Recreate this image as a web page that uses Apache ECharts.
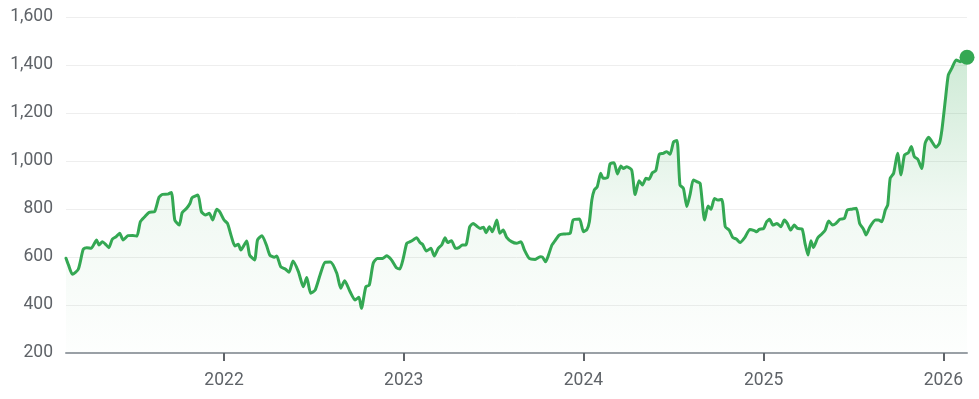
<!DOCTYPE html>
<html>
<head>
<meta charset="utf-8">
<script src="https://cdn.jsdelivr.net/npm/echarts@6/dist/echarts.min.js"></script>
<style>
  html, body { margin: 0; padding: 0; background: #fff; }
  #chart { width: 979px; height: 399px; }
</style>
</head>
<body>
<div id="chart"></div>
<script>
// dates and closing values
var dates = [
  '2021-02-14','2021-02-19','2021-02-27','2021-03-11','2021-03-21','2021-03-28','2021-04-06','2021-04-12','2021-04-17','2021-04-22',
  '2021-04-29','2021-05-05','2021-05-12','2021-05-19','2021-05-27','2021-06-03','2021-06-10','2021-06-20','2021-06-30','2021-07-08',
  '2021-07-15','2021-07-24','2021-08-02','2021-08-13','2021-08-22','2021-08-29','2021-09-09','2021-09-16','2021-09-23','2021-10-02',
  '2021-10-08','2021-10-17','2021-10-24','2021-10-28','2021-11-09','2021-11-16','2021-11-24','2021-12-02','2021-12-09','2021-12-17',
  '2021-12-23','2022-01-01','2022-01-08','2022-01-16','2022-01-23','2022-01-30','2022-02-04','2022-02-16','2022-02-22','2022-03-04',
  '2022-03-10','2022-03-19','2022-03-28','2022-04-04','2022-04-13','2022-04-18','2022-04-26','2022-05-06','2022-05-13','2022-05-21',
  '2022-06-01','2022-06-11','2022-06-18','2022-06-26','2022-07-05','2022-07-15','2022-07-25','2022-08-05','2022-08-18','2022-08-26',
  '2022-09-03','2022-09-14','2022-09-24','2022-10-02','2022-10-07','2022-10-16','2022-10-23','2022-10-31','2022-11-08','2022-11-19',
  '2022-11-27','2022-12-07','2022-12-17','2022-12-24','2022-12-31','2023-01-07','2023-01-14','2023-01-20','2023-01-27','2023-02-03',
  '2023-02-08','2023-02-16','2023-02-25','2023-03-04','2023-03-12','2023-03-19','2023-03-26','2023-03-31','2023-04-08','2023-04-16',
  '2023-04-23','2023-04-30','2023-05-07','2023-05-15','2023-05-22','2023-05-29','2023-06-05','2023-06-12','2023-06-17','2023-06-24',
  '2023-06-30','2023-07-09','2023-07-15','2023-07-22','2023-07-29','2023-08-08','2023-08-18','2023-08-27','2023-09-03','2023-09-13',
  '2023-09-25','2023-10-05','2023-10-10','2023-10-16','2023-10-22','2023-10-29','2023-11-04','2023-11-13','2023-11-25','2023-12-05',
  '2023-12-11','2023-12-24','2024-01-01','2024-01-08','2024-01-13','2024-01-18','2024-01-23','2024-01-29','2024-02-05','2024-02-10',
  '2024-02-19','2024-02-24','2024-03-03','2024-03-10','2024-03-17','2024-03-22','2024-03-29','2024-04-08','2024-04-15','2024-04-23',
  '2024-04-30','2024-05-07','2024-05-13','2024-05-20','2024-05-27','2024-06-03','2024-06-11','2024-06-18','2024-06-25','2024-07-02',
  '2024-07-09','2024-07-15','2024-07-22','2024-07-29','2024-08-05','2024-08-11','2024-08-18','2024-08-25','2024-09-03','2024-09-10',
  '2024-09-16','2024-09-23','2024-09-30','2024-10-08','2024-10-15','2024-10-23','2024-10-30','2024-11-07','2024-11-14','2024-11-24',
  '2024-12-04','2024-12-13','2024-12-18','2024-12-23','2025-01-01','2025-01-07','2025-01-13','2025-01-20','2025-01-28','2025-02-05',
  '2025-02-12','2025-02-18','2025-02-25','2025-03-04','2025-03-11','2025-03-20','2025-03-26','2025-04-01','2025-04-07','2025-04-12',
  '2025-04-21','2025-04-29','2025-05-06','2025-05-13','2025-05-21','2025-05-28','2025-06-05','2025-06-14','2025-06-20','2025-06-29',
  '2025-07-08','2025-07-15','2025-07-23','2025-07-28','2025-08-05','2025-08-16','2025-08-22','2025-08-29','2025-09-05','2025-09-10',
  '2025-09-15','2025-09-22','2025-09-30','2025-10-07','2025-10-14','2025-10-22','2025-10-28','2025-11-03','2025-11-10','2025-11-18',
  '2025-11-25','2025-12-02','2025-12-09','2025-12-17','2025-12-24','2025-12-29','2026-01-05','2026-01-11','2026-01-18','2026-01-27',
  '2026-02-04','2026-02-18'
];
var prices = [
  595, 567, 528, 549, 632, 639, 636, 654, 671, 650,
  664, 654, 639, 674, 685, 699, 671, 689, 690, 687,
  747, 768, 786, 789, 849, 861, 862, 869, 754, 733,
  785, 803, 824, 847, 858, 789, 775, 782, 754, 799,
  789, 754, 740, 685, 646, 653, 629, 667, 608, 588,
  671, 689, 650, 608, 599, 604, 560, 549, 536, 583,
  539, 476, 515, 449, 462, 525, 578, 579, 532, 470,
  501, 455, 421, 432, 386, 476, 483, 574, 594, 594,
  605, 588, 555, 550, 594, 657, 664, 671, 680, 660,
  653, 625, 636, 604, 636, 650, 680, 660, 668, 636,
  639, 650, 650, 726, 740, 729, 719, 724, 701, 726,
  705, 754, 699, 712, 682, 664, 657, 664, 630, 594,
  590, 601, 599, 580, 608, 650, 667, 692, 696, 699,
  754, 758, 705, 715, 747, 837, 879, 893, 949, 928,
  932, 988, 993, 946, 979, 969, 976, 962, 860, 918,
  900, 928, 924, 951, 960, 1028, 1032, 1039, 1028, 1080,
  1085, 900, 886, 810, 865, 921, 914, 907, 754, 812,
  799, 844, 837, 840, 726, 712, 682, 674, 660, 682,
  715, 710, 705, 715, 719, 747, 757, 733, 740, 726,
  754, 740, 712, 733, 719, 717, 657, 608, 668, 640,
  680, 696, 712, 750, 733, 740, 757, 761, 796, 799,
  803, 740, 715, 692, 726, 754, 754, 747, 796, 817,
  928, 949, 1032, 942, 1025, 1035, 1060, 1018, 1007, 969,
  1074, 1099, 1080, 1057, 1074, 1129, 1254, 1358, 1386, 1421,
  1414, 1432
];
var yearTicks = [2022, 2023, 2024, 2025, 2026];
var yTicks = [200, 400, 600, 800, 1000, 1200, 1400, 1600];

// numeric time (UTC ms) so the axis can take custom year ticks
var times = dates.map(function (d) { return new Date(d + 'T00:00:00Z').getTime(); });
var seriesData = times.map(function (t, i) { return [t, prices[i]]; });
var lastPoint = seriesData[seriesData.length - 1];
var yearStamps = yearTicks.map(function (y) { return Date.UTC(y, 0, 1); });

var myChart = echarts.init(document.getElementById('chart'));

var option = {
    animation: false,
    backgroundColor: '#ffffff',
    grid: {
        left: 66,
        right: 12,
        top: 17,
        bottom: 46
    },
    xAxis: {
        type: 'value',
        min: times[0],
        max: times[times.length - 1],
        axisLine: {lineStyle: {color: '#9aa0a6', width: 2}},
        axisTick: {
            show: true,
            customValues: yearStamps,
            length: 8,
            lineStyle: {color: '#5f6368', width: 2}
        },
        axisLabel: {
            customValues: yearStamps,
            formatter: function (v) { return String(new Date(v).getUTCFullYear()); },
            color: '#5f6368',
            fontFamily: 'Roboto',
            fontSize: 17.5,
            margin: 19
        },
        splitLine: {show: false}
    },
    yAxis: {
        type: 'value',
        min: yTicks[0],
        max: yTicks[yTicks.length - 1],
        interval: 200,
        axisLine: {show: false},
        axisTick: {show: false},
        axisLabel: {
            formatter: function (v) { return v.toLocaleString('en-US'); },
            color: '#5f6368',
            fontFamily: 'Roboto',
            fontSize: 17.5,
            margin: 13
        },
        splitLine: {lineStyle: {color: '#eeeeee', width: 1}}
    },
    series: [
        {
            name: 'price',
            type: 'line',
            data: seriesData,
            showSymbol: false,
            smooth: 0.2,
            lineStyle: {color: '#34a853', width: 3, cap: 'round', join: 'round'},
            areaStyle: {
                color: new echarts.graphic.LinearGradient(0, 0, 0, 1, [
                    {offset: 0, color: 'rgba(52,168,83,0.34)'},
                    {offset: 0.5, color: 'rgba(52,168,83,0.10)'},
                    {offset: 1, color: 'rgba(52,168,83,0.01)'}
                ])
            },
            z: 2
        },
        {
            name: 'last',
            type: 'scatter',
            data: [lastPoint],
            symbolSize: 15,
            itemStyle: {color: '#34a853', opacity: 1},
            z: 3
        }
    ]
};

myChart.setOption(option);
</script>
</body>
</html>
